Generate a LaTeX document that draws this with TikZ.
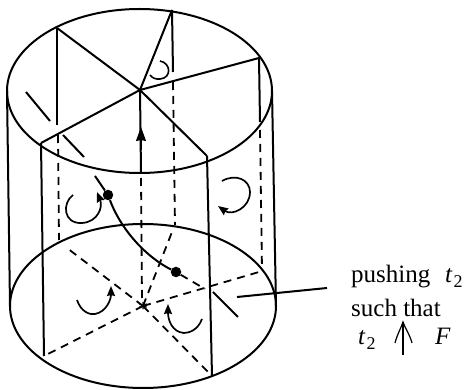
\documentclass[tikz,border=0pt]{standalone}
\usepackage{fontspec}
\setmainfont{Liberation Serif}
\usetikzlibrary{arrows.meta}
\newcommand{\tsub}{\textit{t}\kern1pt\raisebox{-5pt}{\fontsize{18}{18}\selectfont 2}}
\tikzset{
  ink/.style={line width=2pt,black},
  hid/.style={line width=1.8pt,black,dash pattern=on 8pt off 6pt},
  curl/.style={line width=1.7pt,black,-{Stealth[length=10pt,width=8pt,inset=1pt]}},
  curlplain/.style={line width=1.6pt,black},
  lab/.style={anchor=base west,inner sep=0pt,font=\fontsize{25}{25}\selectfont},
  dot/.style={circle,fill=black,inner sep=0pt,minimum size=10.5pt}
}
\begin{document}
\begin{tikzpicture}[x=1pt,y=-1pt]
\useasboundingbox (0,0) rectangle (464,390);
% key points, top disc
\coordinate (O) at (140,90);
\coordinate (A) at (57,28);
\coordinate (B) at (172,10);
\coordinate (C) at (259,58);
\coordinate (D) at (41,143);
\coordinate (E) at (207,156);
% bottom disc
\coordinate (P) at (143,306);
\coordinate (A1) at (67,248);
\coordinate (B1) at (172,232);
\coordinate (C1) at (259,272);
\coordinate (D1) at (44,356);
\coordinate (E1) at (212,376);
% cylinder
\draw[ink] (139.5,91) ellipse [x radius=132.5,y radius=82];
\draw[ink] (143,306) ellipse [x radius=133,y radius=82];
\draw[ink] (7,91) -- (10,306);
\draw[ink] (272,91) -- (276,306);
% top disc radii
\draw[ink] (A) -- (O) -- (E);
\draw[ink] (B) -- (O);
\draw[ink] (C) -- (O) -- (D);
% verticals
\draw[ink] (A) -- (57,125);
\draw[hid] (58,135) -- (59,240);
\draw[ink] (B) -- (173,72);
\draw[hid] (173,82) -- (175,225);
\draw[ink] (C) -- (260,122);
\draw[hid] (260,130) -- (262,270);
\draw[ink] (D) -- (D1);
\draw[ink] (E) -- (E1);
\draw[ink] (O) -- (141,173);
\draw[line width=1pt,-{Stealth[length=14pt,width=10pt,inset=1pt]}] (141,150) -- (141,127);
\draw[hid] (141,178) -- (142,300);
% bottom dashed radii
\draw[hid] (P) -- (D1);
\draw[hid] (P) -- (A1);
\draw[hid] (P) -- (B1);
\draw[hid] (P) -- (C1);
\draw[hid] (P) -- (E1);
\node[font=\fontsize{20}{20}\selectfont,inner sep=0pt] (star) at (143,309) {*};
% pushed curve
\node[dot] (d1) at (108,195) {};
\node[dot] (d2) at (176,272) {};
\draw[ink] (d1) .. controls (122,232) and (148,258) .. (d2);
\draw[ink] (d1) -- (95,176);
\draw[hid] (d2) -- (205,289);
\draw[ink] (213,292) -- (238,317);
\draw[ink] (26,92) -- (50,121);
\draw[ink] (63,135) -- (84,157);
% circulation marks
\draw[curlplain] (160,61) .. controls (171,63) and (172,78) .. (160,79) .. controls (156,79.5) and (152,78) .. (150,75);
\draw[curl] (222,181) .. controls (236,173) and (250,180) .. (250,192) .. controls (250,208) and (232,216) .. (218,206);
\draw[curl] (73,195) .. controls (62,203) and (63,224) .. (82,223) .. controls (98,222) and (103,207) .. (97,192);
\draw[curl] (77,300) .. controls (81,312) and (90,315) .. (95,314) .. controls (106,312) and (111,300) .. (111,286);
\draw[curl] (202,319) .. controls (198,330) and (189,333) .. (184,333) .. controls (172,332) and (168,320) .. (168,304);
% label
\coordinate (ls) at (237,297);
\coordinate (le) at (327,288);
\draw[ink] (ls) -- (le);
\node[lab] (t1) at (351,283) {pushing};
\node[lab] (t2) at (445,283) {\tsub};
\node[lab] (t3) at (351,317) {such that};
\node[lab] (t4) at (358,345) {\tsub};
\node[lab] (t5) at (435,345) {\textit{F}};
% transversality sign
\coordinate (f0) at (403,355);
\coordinate (f1) at (403,322);
\coordinate (fl) at (395,343);
\coordinate (fr) at (412,343);
\draw[line width=1.4pt] (f0) -- (f1);
\draw[line width=1.2pt] (fl) .. controls (397,335) and (401,328) .. (f1) .. controls (405,328) and (410,335) .. (fr);
\end{tikzpicture}
\end{document}
